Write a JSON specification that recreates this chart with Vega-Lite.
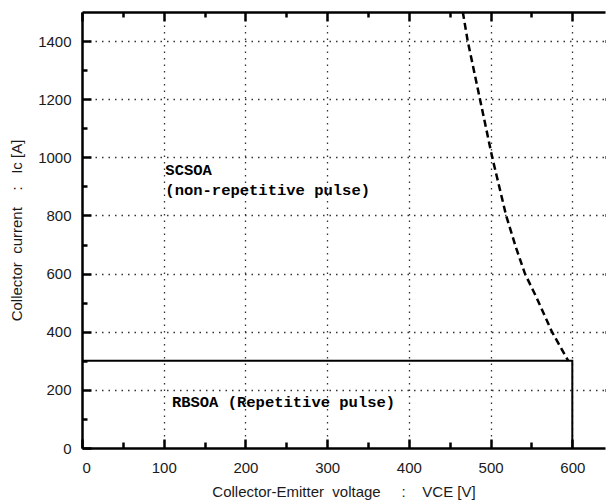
{
  "$schema": "https://vega.github.io/schema/vega-lite/v6.json",
  "autosize": {"type": "none"},
  "padding": {"left": 82, "top": 12, "right": 1, "bottom": 53},
  "width": 523,
  "height": 436,
  "config": {
    "view": {"stroke": null},
    "font": "Liberation Sans",
    "axis": {
      "domainColor": "#000000",
      "domainWidth": 2.5,
      "tickColor": "#000000",
      "tickWidth": 2.5,
      "labelColor": "#1a1a1a",
      "labelFont": "Liberation Sans",
      "labelFontSize": 15,
      "titleFont": "Liberation Sans",
      "titleFontSize": 15,
      "titleFontWeight": "normal",
      "titleColor": "#1a1a1a",
      "gridColor": "#333333",
      "gridDash": [1.5, 5],
      "gridWidth": 1.3
    }
  },
  "datasets": {
    "rbsoa": [
      {"v": 0, "i": 300},
      {"v": 600, "i": 300},
      {"v": 600, "i": 0}
    ],
    "scsoa": [
      {"v": 466, "i": 1500},
      {"v": 472, "i": 1400},
      {"v": 487, "i": 1200},
      {"v": 502, "i": 1000},
      {"v": 519, "i": 800},
      {"v": 531, "i": 690},
      {"v": 542, "i": 600},
      {"v": 556, "i": 519},
      {"v": 575, "i": 400},
      {"v": 595, "i": 300}
    ],
    "notes": [
      {"v": 102, "i": 938, "label": "SCSOA"},
      {"v": 102, "i": 869, "label": "(non-repetitive pulse)"},
      {"v": 110, "i": 141, "label": "RBSOA (Repetitive pulse)"}
    ]
  },
  "layer": [
    {
      "data": {"name": "rbsoa"},
      "mark": {"type": "line", "color": "#000000", "strokeWidth": 2},
      "encoding": {
        "x": {
          "field": "v", "type": "quantitative",
          "scale": {"domain": [0, 640], "nice": false},
          "title": "Collector-Emitter\u00a0\u00a0voltage\u00a0\u00a0\u00a0\u00a0\u00a0:\u00a0\u00a0\u00a0\u00a0VCE [V]",
          "axis": {
            "values": [0, 50, 100, 150, 200, 250, 300, 350, 400, 450, 500, 550, 600],
            "format": "d",
            "labelExpr": "datum.value % 100 === 0 ? datum.label : ''",
            "tickSize": {"condition": {"test": "datum.value % 100 === 0", "value": -9}, "value": -6},
            "labelPadding": 21,
            "titlePadding": 9,
            "gridOpacity": {"condition": {"test": "datum.value % 100 === 0 && datum.value > 0", "value": 1}, "value": 0}
          }
        },
        "y": {
          "field": "i", "type": "quantitative",
          "scale": {"domain": [0, 1500], "nice": false},
          "title": "Collector\u00a0\u00a0current\u00a0\u00a0\u00a0\u00a0:\u00a0\u00a0\u00a0Ic [A]",
          "axis": {
            "values": [0, 100, 200, 300, 400, 500, 600, 700, 800, 900, 1000, 1100, 1200, 1300, 1400],
            "format": "d",
            "labelExpr": "datum.value % 200 === 0 ? datum.label : ''",
            "tickSize": {"condition": {"test": "datum.value % 200 === 0", "value": -9}, "value": -5},
            "labelPadding": 20,
            "titlePadding": 13,
            "gridOpacity": {"condition": {"test": "datum.value % 200 === 0 && datum.value > 0", "value": 1}, "value": 0}
          }
        }
      }
    },
    {
      "data": {"name": "scsoa"},
      "mark": {"type": "line", "color": "#000000", "strokeWidth": 2.5, "strokeDash": [7, 4]},
      "encoding": {
        "x": {
          "field": "v", "type": "quantitative",
          "axis": {
            "orient": "top",
            "values": [0, 50, 100, 150, 200, 250, 300, 350, 400, 450, 500, 550, 600],
            "labels": false,
            "grid": false,
            "title": null,
            "tickSize": {"condition": {"test": "datum.value % 100 === 0", "value": -9}, "value": -5}
          }
        },
        "y": {
          "field": "i", "type": "quantitative",
          "axis": {
            "orient": "right",
            "values": [200, 400, 600, 800, 1000, 1200, 1400],
            "labels": false,
            "grid": false,
            "domain": false,
            "title": null,
            "tickSize": 3,
            "tickWidth": 3
          }
        },
        "order": {"field": "i", "sort": "descending"}
      }
    },
    {
      "data": {"name": "notes"},
      "mark": {"type": "text", "align": "left", "baseline": "alphabetic", "font": "Liberation Mono", "fontWeight": "bold", "fontSize": 15.5, "color": "#000000"},
      "encoding": {
        "x": {"field": "v", "type": "quantitative", "axis": null},
        "y": {"field": "i", "type": "quantitative", "axis": null},
        "text": {"field": "label"}
      }
    }
  ],
  "resolve": {"axis": {"x": "independent", "y": "independent"}}
}
